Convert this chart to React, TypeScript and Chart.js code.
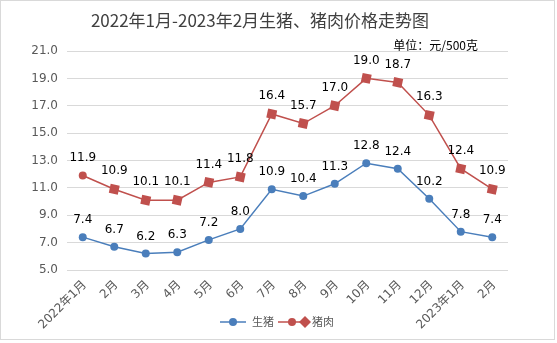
import React, { useEffect, useRef } from "react";
import { Chart, registerables } from "chart.js";

Chart.register(...registerables);

const categories = ["2022年1月", "2月", "3月", "4月", "5月", "6月", "7月", "8月", "9月", "10月", "11月", "12月", "2023年1月", "2月"];
const livePig = [7.4, 6.7, 6.2, 6.3, 7.2, 8.0, 10.9, 10.4, 11.3, 12.8, 12.4, 10.2, 7.8, 7.4];
const pork = [11.9, 10.9, 10.1, 10.1, 11.4, 11.8, 16.4, 15.7, 17.0, 19.0, 18.7, 16.3, 12.4, 10.9];
const seriesNames = ["生猪", "猪肉"];
const titleText = "2022年1月-2023年2月生猪、猪肉价格走势图";
const unitText = "单位：元/500克";

const BLUE = "#4a7ebb";
const RED = "#c0504d";
const FONT = "'DejaVu Sans', 'Noto Sans CJK SC', sans-serif";
const CJK = "'Noto Sans CJK SC', 'DejaVu Sans', sans-serif";

const decor = {
  id: "decor",
  afterDraw(chart: any) {
    const ctx = chart.ctx as CanvasRenderingContext2D;
    ctx.save();
    // border
    ctx.strokeStyle = "#d9d9d9";
    ctx.lineWidth = 1;
    ctx.strokeRect(0.5, 0.5, 554, 339);
    // title
    ctx.fillStyle = "#404040";
    ctx.font = `17px ${CJK}`;
    ctx.textAlign = "center";
    ctx.textBaseline = "middle";
    ctx.fillText(titleText, 260, 21);
    // unit
    ctx.fillStyle = "#000000";
    ctx.font = `12px ${CJK}`;
    ctx.textAlign = "right";
    ctx.fillText(unitText, 478, 45);
    // x category labels (rotated)
    const xs = chart.scales.x;
    const axisY = chart.chartArea.bottom;
    ctx.fillStyle = "#595959";
    ctx.font = `12px ${FONT}`;
    ctx.textAlign = "right";
    ctx.textBaseline = "middle";
    chart.data.labels.forEach((lab: string, i: number) => {
      const px = xs.getPixelForValue(i);
      ctx.save();
      ctx.translate(px + 2, axisY + 13);
      ctx.rotate(-Math.PI / 4);
      ctx.fillText(lab, 0, 0);
      ctx.restore();
    });
    // data labels
    ctx.font = `12px ${FONT}`;
    ctx.textAlign = "center";
    ctx.fillStyle = "#000000";
    chart.data.datasets.forEach((ds: any, i: number) => {
      const meta = chart.getDatasetMeta(i);
      meta.data.forEach((pt: any, j: number) => {
        ctx.fillText(Number(ds.data[j]).toFixed(1), pt.x, pt.y - (i === 0 ? 17 : 18));
      });
    });
    // legend
    const ly = 322;
    ctx.lineWidth = 1.5;
    ctx.strokeStyle = BLUE;
    ctx.beginPath();
    ctx.moveTo(220, ly);
    ctx.lineTo(246, ly);
    ctx.stroke();
    ctx.fillStyle = BLUE;
    ctx.beginPath();
    ctx.arc(233, ly, 4, 0, Math.PI * 2);
    ctx.fill();
    ctx.strokeStyle = RED;
    ctx.beginPath();
    ctx.moveTo(278, ly);
    ctx.lineTo(307, ly);
    ctx.stroke();
    ctx.fillStyle = RED;
    ctx.beginPath();
    ctx.arc(292, ly, 4, 0, Math.PI * 2);
    ctx.fill();
    ctx.beginPath();
    ctx.moveTo(305, ly - 6);
    ctx.lineTo(311, ly);
    ctx.lineTo(305, ly + 6);
    ctx.lineTo(299, ly);
    ctx.closePath();
    ctx.fill();
    ctx.fillStyle = "#595959";
    ctx.font = `11px ${CJK}`;
    ctx.textAlign = "left";
    ctx.fillText(seriesNames[0], 252, ly);
    ctx.fillText(seriesNames[1], 312, ly);
    ctx.restore();
  },
};

export default function App() {
  const ref = useRef<HTMLCanvasElement>(null);
  useEffect(() => {
    document.body.style.margin = "0";
    const porkStyles = pork.map((_, i) => (i === 0 ? "circle" : "rect"));
    const porkRadius = pork.map((_, i) => (i === 0 ? 4 : 6.5));
    const chart = new Chart(ref.current!, {
      type: "line",
      data: {
        labels: categories,
        datasets: [
          {
            label: seriesNames[0],
            data: livePig,
            borderColor: BLUE,
            backgroundColor: BLUE,
            borderWidth: 1.5,
            pointStyle: "circle",
            pointRadius: 4,
            pointBorderWidth: 0,
          },
          {
            label: seriesNames[1],
            data: pork,
            borderColor: RED,
            backgroundColor: RED,
            borderWidth: 1.5,
            pointStyle: porkStyles as any,
            pointRadius: porkRadius,
            pointRotation: 12,
            pointBorderWidth: 0,
          },
        ],
      },
      options: {
        animation: false,
        responsive: false,
        events: [],
        layout: { padding: { left: 0, top: 51, right: 49, bottom: 0 } },
        plugins: { legend: { display: false }, title: { display: false }, tooltip: { enabled: false } },
        scales: {
          x: {
            offset: true,
            grid: { display: false },
            border: { display: false },
            ticks: { display: false },
            afterFit(scale: any) {
              scale.height = 73;
            },
          },
          y: {
            min: 5,
            max: 21,
            grid: { color: "#d9d9d9", lineWidth: 1, drawTicks: false },
            border: { display: false },
            ticks: {
              stepSize: 2,
              padding: 9,
              color: "#595959",
              font: { size: 12, family: FONT },
              callback: (v: any) => Number(v).toFixed(1),
            },
            afterFit(scale: any) {
              scale.width = 67;
            },
          },
        },
      },
      plugins: [decor],
    });
    return () => chart.destroy();
  }, []);
  return (
    <div style={{ width: 557, height: 343, background: "#fff" }}>
      <canvas ref={ref} width={557} height={343} style={{ display: "block" }} />
    </div>
  );
}
